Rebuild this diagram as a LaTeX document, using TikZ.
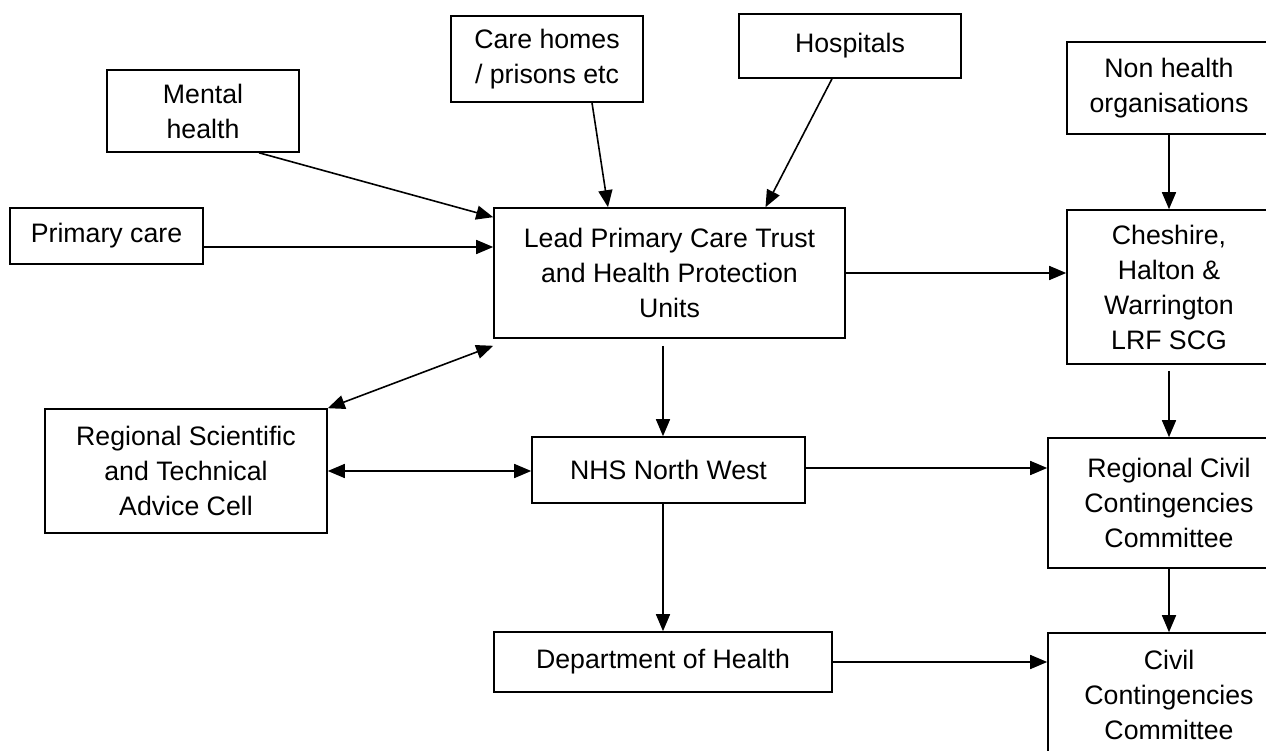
\documentclass[tikz,border=0pt]{standalone}
\usepackage{fontspec}
\setmainfont{Liberation Sans}
\usepackage{tikz}
\usetikzlibrary{arrows.meta, positioning, calc}

\begin{document}
\begin{tikzpicture}[
    x=1pt, y=-1pt,
    box/.style={draw, line width=1.6pt, font={\fontsize{26.7}{35}\selectfont}, align=center, inner sep=2pt},
    arr/.style={-{Triangle[length=17pt,width=14pt]}, line width=1.6pt},
    dbl/.style={{Triangle[length=17pt,width=14pt]}-{Triangle[length=17pt,width=14pt]}, line width=1.6pt},
]
    \fill[white] (0,0) rectangle (1266,751);
    \useasboundingbox (0,0) rectangle (1266,751);
    \clip (0,0) rectangle (1266,751);

    % top row
    \node[box, minimum width=192pt, minimum height=82pt] (mental) at (203,111) {Mental\\health};
    \node[box, minimum width=192pt, minimum height=86pt] (carehomes) at (547,59) {Care homes\\/ prisons etc};
    \node[box, minimum width=222pt, minimum height=64pt] (hospitals) at (850,46) {Hospitals};
    \node[box, minimum width=204pt, minimum height=92pt] (nonhealth) at (1169,88) {Non health\\organisations};

    % middle
    \node[box, minimum width=193pt, minimum height=56pt] (primary) at (106.5,236) {Primary care};
    \node[box, minimum width=351pt, minimum height=130pt] (lead) at (669.5,273) {Lead Primary Care Trust\\and Health Protection\\Units};
    \node[box, minimum width=204pt, minimum height=154pt] (cheshire) at (1169,287) {Cheshire,\\Halton \&\\Warrington\\LRF SCG};
    \node[box, minimum width=282pt, minimum height=124pt] (rstac) at (186,471) {Regional Scientific\\and Technical\\Advice Cell};
    \node[box, minimum width=273pt, minimum height=66pt] (nhsnw) at (668.5,470) {NHS North West};
    \node[box, minimum width=242pt, minimum height=130pt] (rccc) at (1169,503) {Regional Civil\\Contingencies\\Committee};

    % bottom
    \node[box, minimum width=338pt, minimum height=60pt] (doh) at (663,662) {Department of Health};
    \node[box, minimum width=242pt, minimum height=124pt] (ccc) at (1169,695) {Civil\\Contingencies\\Committee};

    % into the lead PCT
    \draw[arr] ([xshift=56pt]mental.south) -- ([yshift=-10pt]lead.north west);
    \draw[arr] ([yshift=-11pt]primary.east) -- ([yshift=-11pt]primary.east -| lead.west);
    \draw[arr] ([xshift=45pt]carehomes.south) -- ([xshift=-61.5pt]lead.north);
    \draw[arr] ([xshift=-18pt]hospitals.south) -- ([xshift=96pt]lead.north);
    \draw[dbl] (rstac.north east) -- ([yshift=-7pt]lead.south west);

    % onwards
    \draw[arr] (nonhealth.south) -- (cheshire.north);
    \draw[arr] (lead.east) -- (lead.east -| cheshire.west);
    \draw[arr] ([yshift=-7pt]lead.south -| doh.north) -- (nhsnw.north -| doh.north);
    \draw[dbl] (rstac.east) -- (rstac.east -| nhsnw.west);
    \draw[arr] ([yshift=2pt]nhsnw.east) -- ([yshift=2pt]nhsnw.east -| rccc.west);
    \draw[arr] ([yshift=-6pt]cheshire.south) -- (rccc.north);
    \draw[arr] (nhsnw.south -| doh.north) -- (doh.north);
    \draw[arr] (rccc.south) -- (ccc.north);
    \draw[arr] (doh.east) -- (doh.east -| ccc.west);
\end{tikzpicture}
\end{document}
